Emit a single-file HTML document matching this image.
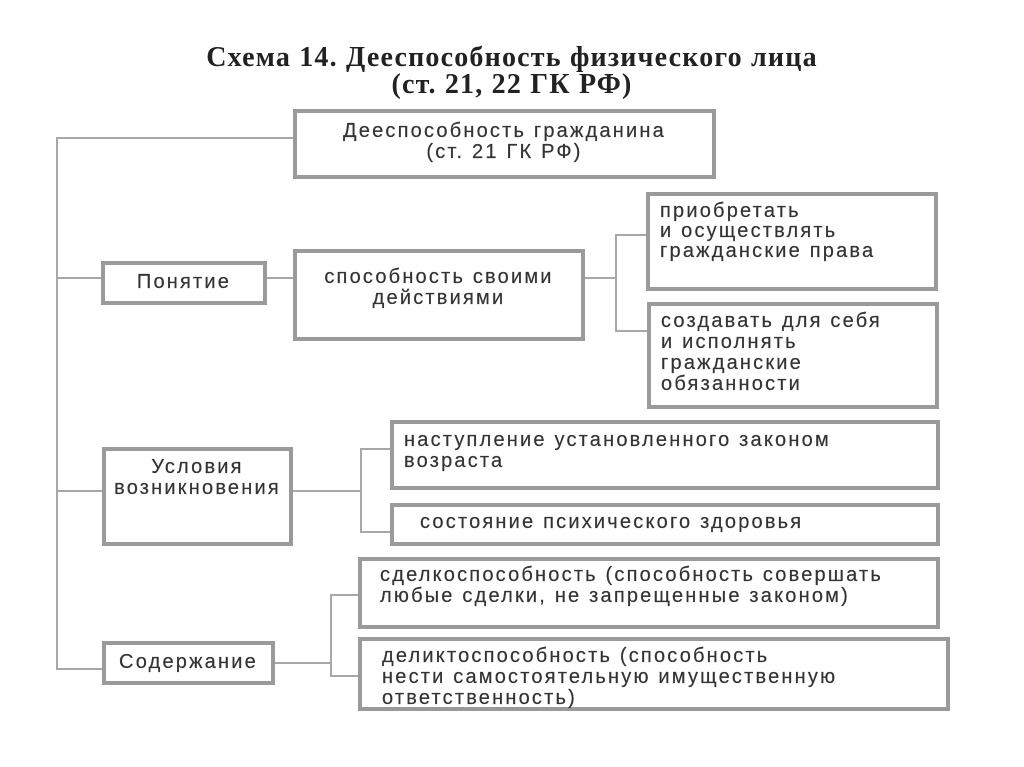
<!DOCTYPE html>
<html><head><meta charset="utf-8"><style>
body{margin:0;background:#fff;width:1024px;height:767px;position:relative;overflow:hidden;font-family:"Liberation Sans","DejaVu Sans",sans-serif;color:#333}
.t{position:absolute;left:0;width:1024px;text-align:center;font-family:"Liberation Serif",serif;font-weight:bold;font-size:28px;letter-spacing:1.2px;line-height:30px;color:#222}
.b{position:absolute;border:4px solid #9a9a9a;box-sizing:border-box;font-size:20px;letter-spacing:2.2px;line-height:21px;color:#333;white-space:nowrap;-webkit-text-stroke:0.2px #333}
.l{position:absolute;background:#a8a8a8}
.h{height:1.5px}.v{width:1.5px}
</style></head><body>
<div class="t" style="top:43px">Схема 14. Дееспособность физического лица</div>
<div class="t" style="top:70px">(ст. 21, 22 ГК РФ)</div>

<div class="l v" style="left:56px;top:137px;height:532px"></div>
<div class="l h" style="left:56px;top:137px;width:238px"></div>
<div class="l h" style="left:56px;top:277px;width:46px"></div>
<div class="l h" style="left:56px;top:490px;width:47px"></div>
<div class="l h" style="left:56px;top:668px;width:47px"></div>

<div class="l h" style="left:266px;top:277px;width:28px"></div>
<div class="l h" style="left:584px;top:277px;width:32px"></div>
<div class="l v" style="left:615px;top:234px;height:97px"></div>
<div class="l h" style="left:615px;top:234px;width:32px"></div>
<div class="l h" style="left:615px;top:330px;width:33px"></div>

<div class="l h" style="left:292px;top:490px;width:69px"></div>
<div class="l v" style="left:360px;top:448px;height:84px"></div>
<div class="l h" style="left:360px;top:448px;width:31px"></div>
<div class="l h" style="left:360px;top:531px;width:31px"></div>

<div class="l h" style="left:274px;top:662px;width:57px"></div>
<div class="l v" style="left:330px;top:594px;height:82px"></div>
<div class="l h" style="left:330px;top:594px;width:29px"></div>
<div class="l h" style="left:330px;top:675px;width:29px"></div>

<div class="b" style="left:293px;top:109px;width:423px;height:70px;text-align:center;padding-top:8px">Дееспособность гражданина<br>(ст. 21 ГК РФ)</div>
<div class="b" style="left:101px;top:261px;width:166px;height:44px;text-align:center;padding-top:7px">Понятие</div>
<div class="b" style="left:293px;top:249px;width:292px;height:92px;text-align:center;padding-top:14px">способность своими<br>действиями</div>
<div class="b" style="left:646px;top:192px;width:292px;height:99px;padding:5px 0 0 10px;line-height:20px">приобретать<br>и осуществлять<br>гражданские права</div>
<div class="b" style="left:647px;top:302px;width:292px;height:107px;padding:5px 0 0 10px;line-height:21px">создавать для себя<br>и исполнять<br>гражданские<br>обязанности</div>
<div class="b" style="left:102px;top:447px;width:191px;height:99px;text-align:center;padding-top:6px">Условия<br>возникновения</div>
<div class="b" style="left:390px;top:420px;width:550px;height:70px;padding:6px 0 0 10px">наступление установленного законом<br>возраста</div>
<div class="b" style="left:390px;top:503px;width:550px;height:43px;padding:5px 0 0 26px">состояние психического здоровья</div>
<div class="b" style="left:102px;top:641px;width:173px;height:44px;text-align:center;padding-top:7px">Содержание</div>
<div class="b" style="left:358px;top:557px;width:582px;height:72px;padding:4px 0 0 18px">сделкоспособность (способность совершать<br>любые сделки, не запрещенные законом)</div>
<div class="b" style="left:358px;top:637px;width:592px;height:74px;padding:5px 0 0 20px">деликтоспособность (способность<br>нести самостоятельную имущественную<br>ответственность)</div>
</body></html>
